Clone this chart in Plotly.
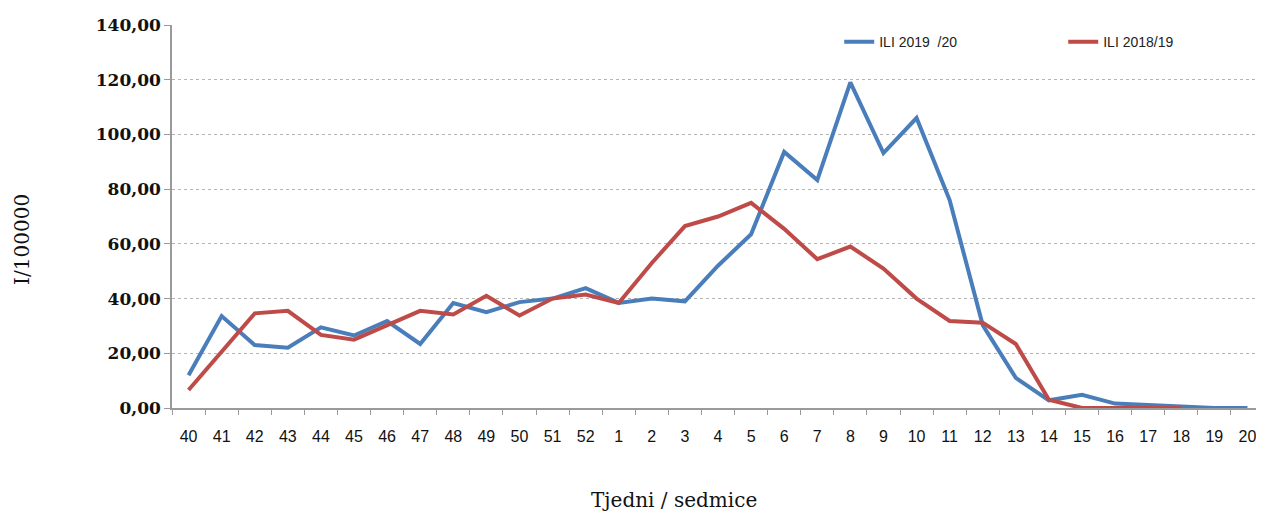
import plotly.graph_objects as go

weeks = ["40","41","42","43","44","45","46","47","48","49","50","51","52",
         "1","2","3","4","5","6","7","8","9","10","11","12","13","14","15","16","17","18","19","20"]

ili_2019_20 = [12.0, 33.6, 23.0, 22.0, 29.5, 26.5, 31.8, 23.4, 38.4, 35.0, 38.7, 40.0, 43.8,
               38.4, 40.0, 39.0, 52.0, 63.5, 93.6, 83.3, 119.0, 93.2, 106.0, 76.0, 30.3, 11.0,
               2.8, 4.8, 1.6, 1.0, 0.6, 0.0, 0.0]

ili_2018_19 = [6.6, 20.5, 34.6, 35.5, 26.7, 25.0, 30.2, 35.5, 34.2, 41.0, 33.8, 40.0, 41.5,
               38.4, 53.0, 66.5, 70.0, 75.0, 65.5, 54.4, 59.0, 51.0, 40.0, 31.8, 31.2, 23.4,
               3.0, 0.0, 0.0, 0.0, 0.0]

fig = go.Figure()
fig.add_trace(go.Scatter(x=weeks, y=ili_2019_20, mode="lines", name="ILI 2019\u00a0 /20",
                         line=dict(color="#4a7ebb", width=4)))
fig.add_trace(go.Scatter(x=weeks[:len(ili_2018_19)], y=ili_2018_19, mode="lines", name="ILI 2018/19",
                         line=dict(color="#be4b48", width=4)))

fig.update_layout(
    width=1256, height=507,
    margin=dict(l=164, r=0, t=17, b=107, autoexpand=False),
    paper_bgcolor="white", plot_bgcolor="white",
    separators=",.",
    showlegend=True,
    legend=dict(orientation="h", x=0.611, y=0.955, xanchor="left", yanchor="middle",
                font=dict(family="Liberation Sans", size=14, color="#222"),
                entrywidth=179, entrywidthmode="pixels", bgcolor="rgba(0,0,0,0)"),
    xaxis=dict(type="category", categoryorder="array", categoryarray=weeks,
               showline=True, linecolor="#9a9a9a", linewidth=1.5,
               ticks="outside", tickson="boundaries", ticklen=5, tickcolor="#9a9a9a",
               ticklabelstandoff=13,
               showgrid=False, range=[-0.5, len(weeks) - 0.5],
               tickfont=dict(family="Liberation Sans", size=16, color="#111")),
    yaxis=dict(range=[0, 140], dtick=20, tickformat=".2f",
               showline=True, linecolor="#9a9a9a", linewidth=1.5,
               ticks="outside", ticklen=6, tickcolor="#9a9a9a",
               showgrid=True, gridcolor="#b4b4b4", griddash="dot", gridwidth=1,
               zeroline=False,
               tickfont=dict(family="DejaVu Serif", size=17, color="#111", weight="bold")),
)

fig.add_annotation(text="I/100000", xref="paper", yref="paper", x=-0.137, y=0.44,
                   xanchor="center", textangle=-90, showarrow=False,
                   font=dict(family="DejaVu Serif", size=20, color="#111"))
fig.add_annotation(text="Tjedni / sedmice", xref="paper", yref="paper", x=0.46, y=-0.24,
                   yanchor="middle", showarrow=False,
                   font=dict(family="DejaVu Serif", size=20, color="#111"))

fig.write_html("out.html")
